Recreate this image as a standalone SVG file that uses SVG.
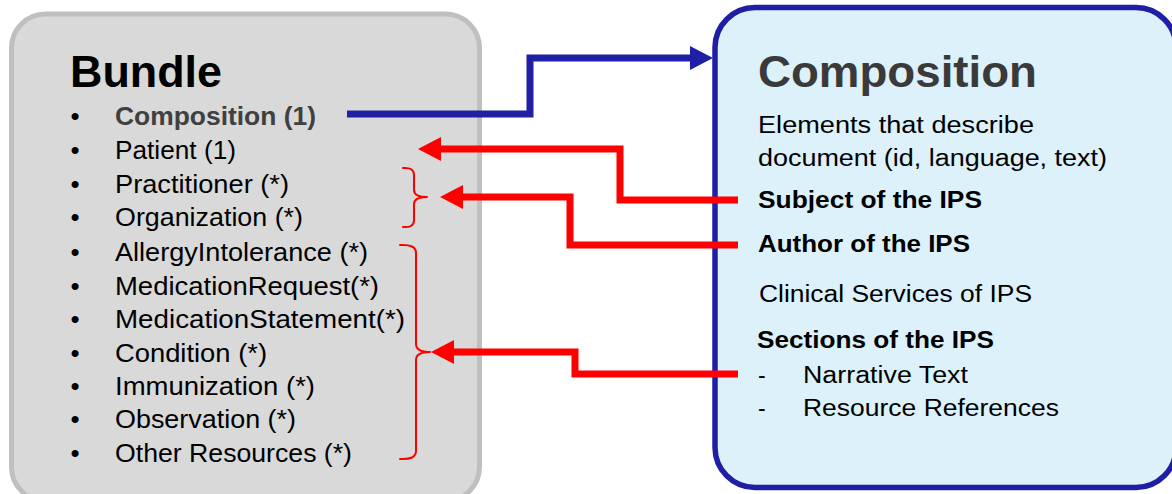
<svg xmlns="http://www.w3.org/2000/svg" width="1172" height="494" viewBox="0 0 1172 494">
  <defs>
    <style>
      text { font-family: "Liberation Sans", Arial, sans-serif; }
      .title { font-size: 45px; font-weight: bold; }
      .item { font-size: 26.5px; fill: #000; }
      .body { font-size: 23px; fill: #000; }
      .strong { font-weight: bold; }
      .bullet { font-size: 26px; text-anchor: middle; }
      .blue-link { fill: none; stroke: #1f1fa6; stroke-width: 7; stroke-linejoin: miter; }
      .red-link { fill: none; stroke: #ff0000; stroke-width: 7; stroke-linejoin: miter; }
      .brace { fill: none; stroke: #ff0000; stroke-width: 2; stroke-linecap: round; stroke-linejoin: round; }
    </style>
    <marker id="head-blue" viewBox="0 0 23 24" refX="0" refY="12" markerWidth="23" markerHeight="24" markerUnits="userSpaceOnUse" orient="auto">
      <path d="M0,0 L23,12 L0,24 z" fill="#1f1fa6"/>
    </marker>
    <marker id="head-red" viewBox="0 0 23 24" refX="0" refY="12" markerWidth="23" markerHeight="24" markerUnits="userSpaceOnUse" orient="auto">
      <path d="M0,0 L23,12 L0,24 z" fill="#ff0000"/>
    </marker>
  </defs>

  <rect width="1172" height="494" fill="#ffffff"/>

  <!-- Bundle node -->
  <g id="bundle">
    <rect x="11.5" y="14" width="468" height="487" rx="34" ry="34" fill="#d9d9d9" stroke="#bfbfbf" stroke-width="5"/>
    <text class="title" x="70" y="87" textLength="152" lengthAdjust="spacingAndGlyphs">Bundle</text>
    <g class="item">
      <text class="bullet" x="75" y="125">•</text>
      <text x="115" y="125" class="strong" fill="#404040" textLength="201" lengthAdjust="spacingAndGlyphs">Composition (1)</text>
      <text class="bullet" x="75" y="159">•</text>
      <text x="115" y="159" textLength="121" lengthAdjust="spacingAndGlyphs">Patient (1)</text>
      <text class="bullet" x="75" y="193">•</text>
      <text x="115" y="193" textLength="174" lengthAdjust="spacingAndGlyphs">Practitioner (*)</text>
      <text class="bullet" x="75" y="226">•</text>
      <text x="115" y="226" textLength="188" lengthAdjust="spacingAndGlyphs">Organization (*)</text>
      <text class="bullet" x="75" y="261">•</text>
      <text x="115" y="261" textLength="253" lengthAdjust="spacingAndGlyphs">AllergyIntolerance (*)</text>
      <text class="bullet" x="75" y="295">•</text>
      <text x="115" y="295" textLength="264" lengthAdjust="spacingAndGlyphs">MedicationRequest(*)</text>
      <text class="bullet" x="75" y="328">•</text>
      <text x="115" y="328" textLength="290" lengthAdjust="spacingAndGlyphs">MedicationStatement(*)</text>
      <text class="bullet" x="75" y="362">•</text>
      <text x="115" y="362" textLength="152" lengthAdjust="spacingAndGlyphs">Condition (*)</text>
      <text class="bullet" x="75" y="395">•</text>
      <text x="115" y="395" textLength="200" lengthAdjust="spacingAndGlyphs">Immunization (*)</text>
      <text class="bullet" x="75" y="428">•</text>
      <text x="115" y="428" textLength="181" lengthAdjust="spacingAndGlyphs">Observation (*)</text>
      <text class="bullet" x="75" y="462">•</text>
      <text x="115" y="462" textLength="237" lengthAdjust="spacingAndGlyphs">Other Resources (*)</text>
    </g>
    <!-- grouping braces -->
    <path class="brace" d="M403,168 Q414,167 414,175 V190 Q414,197 427,197 Q414,197 414,204 V220 Q414,228 403,227"/>
    <path class="brace" d="M400,245 Q416,244 416,253 V344 Q416,352 430,352 Q416,352 416,360 V451 Q416,460 400,459"/>
  </g>

  <!-- Composition node -->
  <g id="composition">
    <rect x="715" y="7.5" width="461" height="480" rx="40" ry="40" fill="#dcf1fa" stroke="#1f1fa6" stroke-width="5.5"/>
    <text class="title" x="758" y="87" fill="#3a3a3a" textLength="279" lengthAdjust="spacingAndGlyphs">Composition</text>
    <g class="body">
      <text x="758" y="133" textLength="276" lengthAdjust="spacingAndGlyphs">Elements that describe</text>
      <text x="758" y="166" textLength="349" lengthAdjust="spacingAndGlyphs">document (id, language, text)</text>
      <text x="758" y="208" class="strong" textLength="224" lengthAdjust="spacingAndGlyphs">Subject of the IPS</text>
      <text x="758" y="252" class="strong" textLength="212" lengthAdjust="spacingAndGlyphs">Author of the IPS</text>
      <text x="759" y="302" textLength="273" lengthAdjust="spacingAndGlyphs">Clinical Services of IPS</text>
      <text x="757" y="348" class="strong" textLength="237" lengthAdjust="spacingAndGlyphs">Sections of the IPS</text>
      <text x="758" y="383">-</text>
      <text x="803" y="383" textLength="165" lengthAdjust="spacingAndGlyphs">Narrative Text</text>
      <text x="758" y="416">-</text>
      <text x="803" y="416" textLength="256" lengthAdjust="spacingAndGlyphs">Resource References</text>
    </g>
  </g>

  <!-- Connectors -->
  <g id="connectors">
    <path class="blue-link" d="M347,114 H530 V58 H690" marker-end="url(#head-blue)"/>
    <path class="red-link" d="M738,200 H620 V149 H441" marker-end="url(#head-red)"/>
    <path class="red-link" d="M738,245 H570 V197 H463" marker-end="url(#head-red)"/>
    <path class="red-link" d="M738,374 H575 V352 H454" marker-end="url(#head-red)"/>
  </g>
</svg>
